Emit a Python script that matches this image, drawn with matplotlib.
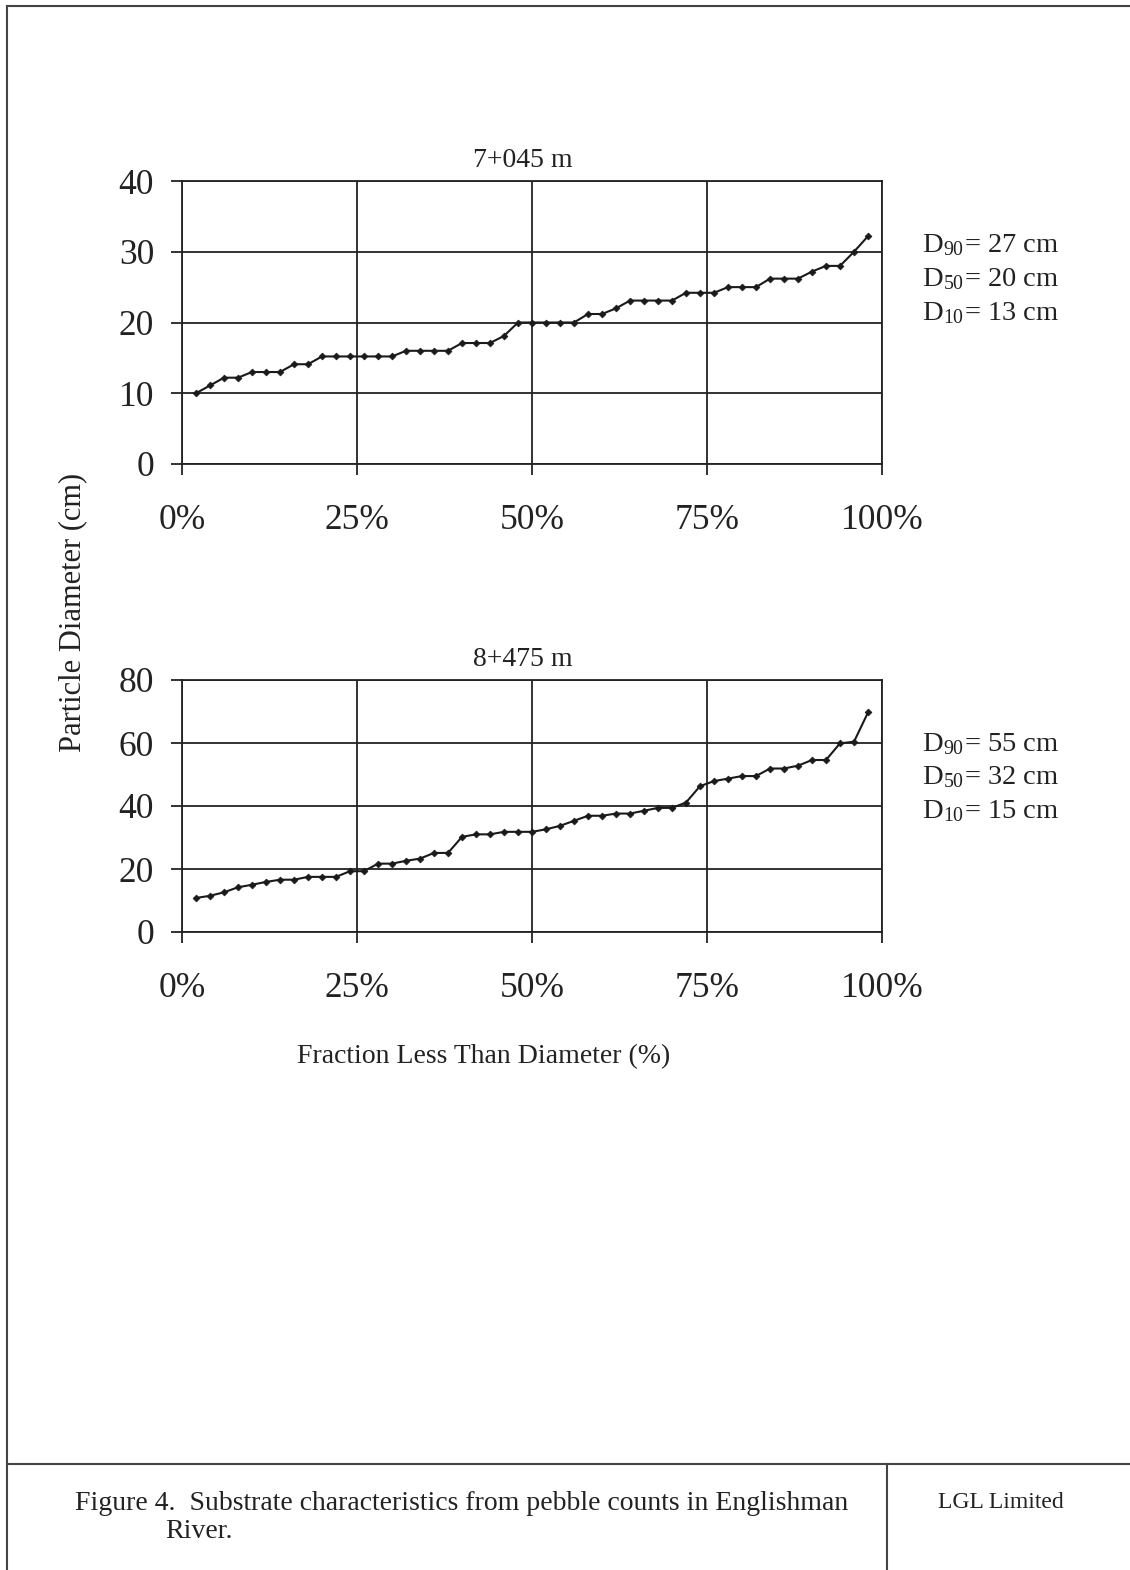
import matplotlib
matplotlib.use("Agg")
import matplotlib.pyplot as plt
from matplotlib.lines import Line2D
from matplotlib.ticker import FuncFormatter

plt.rcParams['font.family'] = ['Liberation Serif', 'DejaVu Serif']
plt.rcParams['mathtext.fontset'] = 'stix'

# fraction less than diameter (%), 2% steps
frac = [2, 4, 6, 8, 10, 12, 14, 16, 18, 20, 22, 24, 26, 28, 30, 32, 34, 36, 38, 40,
        42, 44, 46, 48, 50, 52, 54, 56, 58, 60, 62, 64, 66, 68, 70, 72, 74, 76, 78, 80,
        82, 84, 86, 88, 90, 92, 94, 96, 98]

# 7+045 m particle diameters (cm)
diam_7045 = [10.0, 11.1, 12.2, 12.2, 13.0, 13.0, 13.0, 14.1, 14.1, 15.2,
             15.2, 15.2, 15.2, 15.2, 15.2, 16.0, 16.0, 16.0, 16.0, 17.1,
             17.1, 17.1, 18.1, 20.0, 20.0, 20.0, 20.0, 20.0, 21.2, 21.2,
             22.0, 23.1, 23.1, 23.1, 23.1, 24.2, 24.2, 24.2, 25.0, 25.0,
             25.0, 26.2, 26.2, 26.2, 27.2, 28.0, 28.0, 30.0, 32.2]

# 8+475 m particle diameters (cm)
diam_8475 = [10.8, 11.5, 12.6, 14.2, 15.0, 15.9, 16.6, 16.6, 17.5, 17.5,
             17.5, 19.3, 19.3, 21.7, 21.7, 22.6, 23.3, 25.1, 25.1, 30.2,
             31.0, 31.0, 31.8, 31.8, 31.8, 32.6, 33.7, 35.3, 36.9, 36.9,
             37.6, 37.6, 38.5, 39.4, 39.4, 41.1, 46.3, 47.9, 48.7, 49.5,
             49.5, 51.9, 51.9, 52.8, 54.6, 54.6, 59.9, 60.4, 69.7]

titles = ["7+045 m", "8+475 m"]
stats_7045 = [("90", 27), ("50", 20), ("10", 13)]
stats_8475 = [("90", 55), ("50", 32), ("10", 15)]

W, H = 1130, 1570
fig = plt.figure(figsize=(W / 100, H / 100), dpi=100)


def fx(px):
    return px / W


def fy(py):
    return 1 - py / H


pct = FuncFormatter(lambda v, p: "%d%%" % v)


def make_axes(top, bottom, ymax, ystep, yvals, title):
    ax = fig.add_axes([fx(182), fy(bottom), fx(882) - fx(182), fy(top) - fy(bottom)])
    ax.plot(frac, yvals, color="#1a1a1a", lw=1.5, marker="D", ms=3.5,
            markeredgewidth=0.5, zorder=3)
    ax.set_xlim(0, 100)
    ax.set_ylim(0, ymax)
    ax.set_xticks([0, 25, 50, 75, 100])
    ax.set_yticks(range(0, ymax + 1, ystep))
    ax.xaxis.set_major_formatter(pct)
    ax.grid(True, color="#222222", lw=1.3)
    ax.set_axisbelow(True)
    for s in ax.spines.values():
        s.set_color("#222222")
        s.set_linewidth(1.3)
    ax.tick_params(axis="both", direction="out", length=8, width=1.3,
                   color="#222222", labelsize=25.5, labelcolor="#222222")
    ax.tick_params(axis="x", pad=21)
    ax.tick_params(axis="y", pad=12)
    ax.set_title(title, fontsize=20, x=0.487, pad=10, color="#222222")
    return ax


make_axes(181, 464, 40, 10, diam_7045, titles[0])
make_axes(680, 932, 80, 20, diam_8475, titles[1])

for ys, stats in [((246, 280, 314), stats_7045), ((745, 778, 812), stats_8475)]:
    for y, (sub, val) in zip(ys, stats):
        fig.text(fx(922), fy(y), r"D$_{\mathregular{%s}}$= %d cm" % (sub, val),
                 fontsize=20.5, va="center", ha="left", color="#222222")

fig.text(fx(73), fy(612), "Particle Diameter (cm)", rotation=90, fontsize=22,
         ha="center", va="center", color="#222222")
fig.text(fx(484), fy(1057), "Fraction Less Than Diameter (%)", fontsize=20,
         ha="center", va="center", color="#222222")

# page frame and caption box
frame = dict(color="#444444", lw=1.5, transform=fig.transFigure)
fig.add_artist(Line2D([fx(7), fx(7)], [0, fy(6)], **frame))
fig.add_artist(Line2D([fx(7), 1], [fy(6), fy(6)], **frame))
fig.add_artist(Line2D([fx(7), 1], [fy(1464), fy(1464)], **frame))
fig.add_artist(Line2D([fx(887), fx(887)], [0, fy(1464)], **frame))

fig.text(fx(75), fy(1503), "Figure 4.  Substrate characteristics from pebble counts in Englishman",
         fontsize=20, ha="left", va="center", color="#222222")
fig.text(fx(165), fy(1531), "River.", fontsize=20, ha="left", va="center", color="#222222")
fig.text(fx(1001), fy(1503), "LGL Limited", fontsize=17, ha="center", va="center",
         color="#222222")

plt.savefig("out.png", dpi=100)
